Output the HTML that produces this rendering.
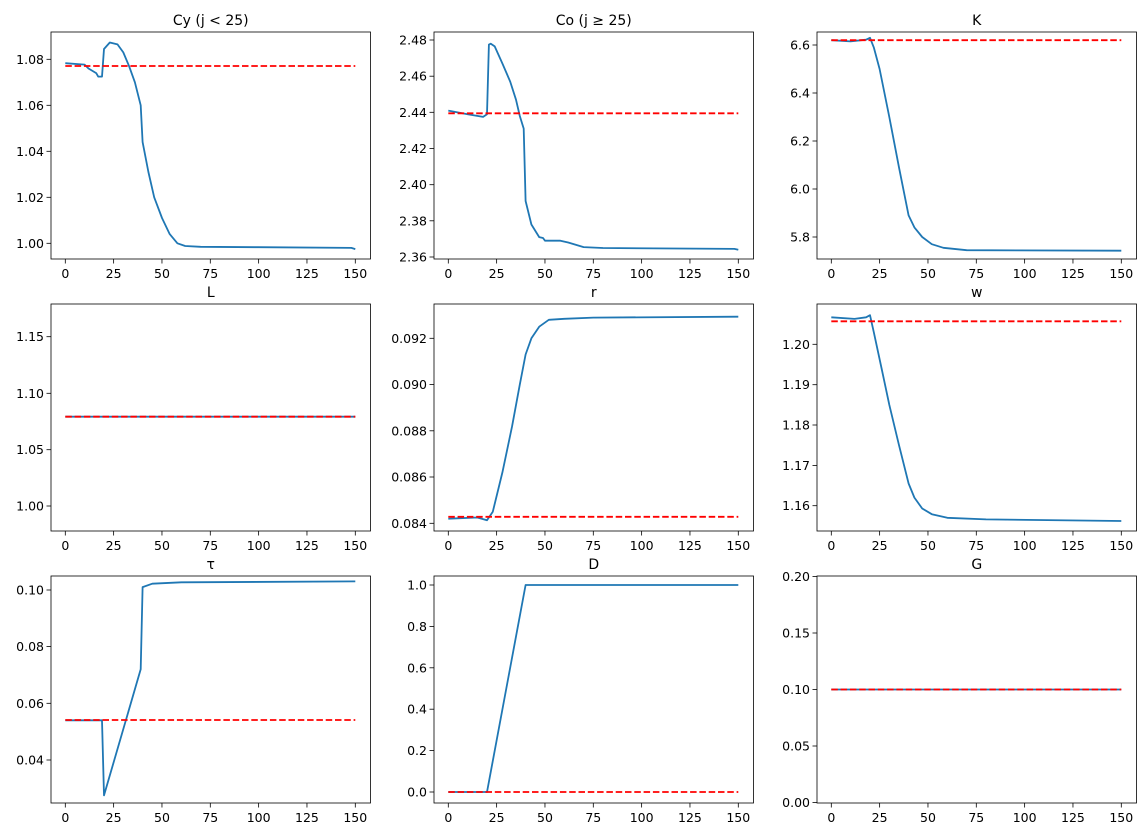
<!DOCTYPE html>
<html><head><meta charset="utf-8"><style>
html,body{margin:0;padding:0;background:#fff;}
svg{display:block;font-family:"DejaVu Sans","Liberation Sans",sans-serif;}
</style></head><body>
<svg id="s" width="1145" height="836" xmlns="http://www.w3.org/2000/svg"></svg>
<script>
const S=document.getElementById('s');let h='';
const cols=[51,434,817],rows=[32,304,576],W=319.5,H=227;
function ax(c,r,title,ticks,blue,red){
 const L=cols[c],T=rows[r],B=T+H,x0=L+14.3;
 const X=v=>x0+v*1.9333;
 h+=`<text x="${L+W/2}" y="${T-7}" font-size="14" text-anchor="middle">${title}</text>`;
 for(let i=0;i<=6;i++){const x=X(i*25);h+=`<line x1="${x}" y1="${B}" x2="${x}" y2="${B+4.5}" stroke="#000" stroke-width="0.8"/><text x="${x}" y="${B+19}" font-size="12.5" text-anchor="middle">${i*25}</text>`;}
 for(const [y,l] of ticks){h+=`<line x1="${L-4.5}" y1="${y}" x2="${L}" y2="${y}" stroke="#000" stroke-width="0.8"/><text x="${L-7}" y="${y+4.5}" font-size="12.5" text-anchor="end">${l}</text>`;}
 h+=`<polyline fill="none" stroke="#1f77b4" stroke-width="1.8" stroke-linejoin="round" points="${blue.map(p=>(p[0]-[65.5,448.5,831.5][c]+x0)+','+p[1]).join(' ')}"/>`;
 if(red!==null)h+=`<line x1="${X(0)}" y1="${red}" x2="${X(150)}" y2="${red}" stroke="#ff0000" stroke-width="1.8" stroke-dasharray="6.5,2.8"/>`;
 h+=`<rect x="${L}" y="${T}" width="${W}" height="${H}" fill="none" stroke="#000" stroke-width="0.8"/>`;
}
ax(0,0,'Cy (j &lt; 25)',[[243.3,'1.00'],[197.3,'1.02'],[151.3,'1.04'],[105.3,'1.06'],[59.3,'1.08']],
[[65.5,63.2],[84.8,64.6],[88.7,68.5],[96.4,73.1],[98.4,76.6],[102.2,76.6],[104.2,49],[110,42.5],[117.7,44.4],[123.5,52.4],[129.3,66.2],[135.1,82.3],[140.9,105.3],[142.8,142.1],[148.6,172],[154.4,197.3],[162.2,218],[169.9,234.1],[177.6,243.3],[185.4,246],[200.8,246.8],[258.8,247.2],[351.6,247.9],[355.5,249.1]],66);
ax(1,0,'Co (j \u2265 25)',[[257,'2.36'],[220.8,'2.38'],[184.7,'2.40'],[148.5,'2.42'],[112.3,'2.44'],[76.2,'2.46'],[40,'2.48']],
[[448.5,110.6],[467.8,114.2],[483.3,116.9],[487.2,114.2],[489.1,44.6],[491,43.7],[494.9,46.4],[502.6,63.5],[510.4,81.6],[516.2,99.7],[520,116],[523.9,128.6],[525.8,201],[531.6,224.5],[539.4,237.1],[543.2,238],[545.2,240.7],[560.6,240.7],[568.4,242.5],[583.8,247.1],[603.2,248],[734.6,248.9],[738.5,249.8]],113.3);
ax(2,0,'K',[[237,'5.8'],[189,'6.0'],[141,'6.2'],[93,'6.4'],[45,'6.6']],
[[831.5,40.2],[850.8,41.4],[866.3,39.7],[870.2,37.8],[874,47.4],[879.8,69],[889.5,117],[899.2,167.4],[908.8,215.4],[914.6,227.4],[922.4,237],[932,244.2],[943.6,247.8],[966.8,250.2],[1121.5,250.7]],40.2);
ax(0,1,'L',[[506,'1.00'],[449.7,'1.05'],[393.3,'1.10'],[336.7,'1.15']],[[65.5,416.7],[355.5,416.7]],416.7);
ax(1,1,'r',[[523.3,'0.084'],[477,'0.086'],[430.8,'0.088'],[384.6,'0.090'],[338.3,'0.092']],
[[448.5,518.7],[477.5,517.5],[487.2,520.3],[493,511.7],[502.6,472.4],[512.3,426.2],[520,384.6],[525.8,354.5],[531.6,338.3],[539.4,326.7],[549,319.8],[564.5,318.8],[593.5,317.6],[738.5,316.7]],516.8);
ax(2,1,'w',[[505.7,'1.16'],[465.4,'1.17'],[425,'1.18'],[384.7,'1.19'],[344.3,'1.20']],
[[831.5,317.3],[854.7,318.9],[866.3,317.3],[870.2,315.2],[874,332.2],[881.8,368.5],[889.5,404.8],[899.2,445.2],[908.8,483.5],[914.6,497.6],[922.4,508.5],[932,514.2],[947.5,517.8],[986.2,519.4],[1121.5,521]],321.3);
ax(0,2,'\u03c4',[[760,'0.04'],[703.3,'0.06'],[646.6,'0.08'],[590,'0.10']],
[[65.5,720.3],[102.2,720.3],[104.2,795.4],[140.9,669.3],[142.8,587.1],[152.5,583.7],[181.5,582.3],[355.5,581.4]],720);
ax(1,2,'D',[[792,'0.0'],[750.6,'0.2'],[709.2,'0.4'],[667.8,'0.6'],[626.4,'0.8'],[585,'1.0']],
[[448.5,792],[487.2,792],[525.8,585],[738.5,585]],792);
ax(2,2,'G',[[802.5,'0.00'],[746,'0.05'],[689.5,'0.10'],[633,'0.15'],[576.5,'0.20']],[[831.5,689.5],[1121.5,689.5]],689.5);
S.innerHTML=h;
</script>
</body></html>
